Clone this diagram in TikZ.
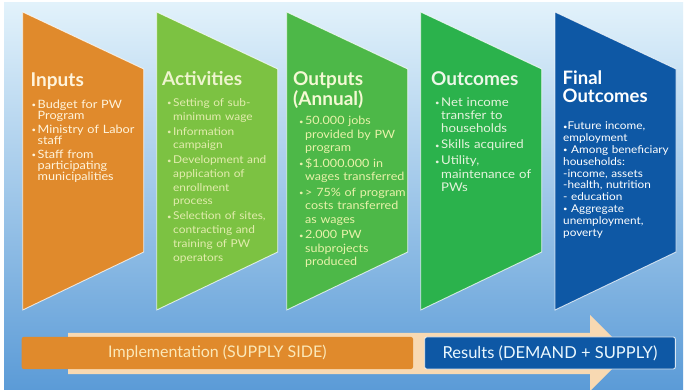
\documentclass[tikz,border=0pt]{standalone}
\usepackage{fontspec}
\setmainfont{Lato}
\newfontfamily\bodyf[FakeStretch=1.1]{Lato}
\definecolor{bgtop}{HTML}{E2F2FB}
\definecolor{bgmid}{HTML}{A6CFEE}
\definecolor{bgbot}{HTML}{5B9BD7}
\definecolor{cinp}{HTML}{E08A2C}
\definecolor{cact}{HTML}{7CC242}
\definecolor{cout}{HTML}{4DB848}
\definecolor{coum}{HTML}{2BB24C}
\definecolor{cfin}{HTML}{0E58A5}
\definecolor{peach}{HTML}{F8D9B2}
\definecolor{tinp}{HTML}{FFF4DC}
\definecolor{tact}{HTML}{E2ECAE}
\definecolor{tout}{HTML}{E8F2AA}
\definecolor{toum}{HTML}{E4F3DC}
\definecolor{timp}{HTML}{FBE8B8}
\newcommand\bu{\makebox[6pt][l]{\raisebox{0.6pt}{\fontsize{7}{7}\selectfont\textbullet}}}
\newcommand\ind{\makebox[6pt]{}}
\newcommand\sbu{{\fontsize{7}{7}\selectfont\raisebox{0.6pt}{\textbullet}}}
\newcommand\chevpath[1]{(#1,12) -- (#1+121,69) -- (#1+121,252) -- (#1,310) -- cycle}
\begin{document}
\begin{tikzpicture}[x=1pt,y=-1pt,
  chev/.style={draw=white, draw opacity=0.75, line width=0.9pt},
  head/.style={anchor=base west, inner sep=0pt, text width=125pt, align=left,
    font=\fontsize{19}{17.5}\selectfont\bfseries},
  body/.style={anchor=base west, inner sep=0pt, text width=125pt, align=left},
  bar/.style={inner sep=0pt, minimum height=32pt, rounded corners=2pt}]
\useasboundingbox (0,0) rectangle (686,390);
\fill[white] (0,0) rectangle (686,390);
\shade[top color=bgtop, middle color=bgmid, bottom color=bgbot] (4,3) rectangle (683,390);
% chevrons
\fill[cinp, chev] \chevpath{22.7};
\fill[cact, chev] \chevpath{156.7};
\fill[cout, chev] \chevpath{286.7};
\fill[coum, chev] \chevpath{420.7};
\fill[cfin, chev] \chevpath{555};
% headings
\node[head, text=tinp] (hinp) at (30.5,87) {Inputs};
\node[head, text=tact!60!white] (hact) at (162,86) {Activities};
\node[head, text=tout!50!white] (hout) at (293,86) {Outputs\\(Annual)};
\node[head, text=toum!70!white] (houm) at (431,86) {Outcomes};
\node[head, text=white, font=\fontsize{18.5}{17.8}\selectfont\bfseries] (hfin) at (562.5,85) {Final\\Outcomes};
% bodies
\node[body, text=tinp, font=\bodyf\fontsize{11.5}{11}\selectfont] (binp) at (31.5,108.5) {%
\bu Budget for PW\\\ind Program\\[3pt]
\bu Ministry of Labor\\\ind staff\\[3pt]
\bu Staff from\\\ind participating\\\ind municipalities};
\node[body, text=tact, font=\bodyf\fontsize{10.8}{13.7}\selectfont] (bact) at (167,106.5) {%
\bu Setting of sub-\\\ind minimum wage\\[1.3pt]
\bu Information\\\ind campaign\\[1.3pt]
\bu Development and\\\ind application of\\\ind enrollment\\\ind process\\[1.3pt]
\bu Selection of sites,\\\ind contracting and\\\ind training of PW\\\ind operators};
\node[body, text=tout, font=\bodyf\fontsize{11.4}{13.3}\selectfont] (bout) at (299,125) {%
\bu 50.000 jobs\\\ind provided by PW\\\ind program\\[2.5pt]
\bu \$1.000.000 in\\\ind wages transferred\\[2.5pt]
\bu > 75\% of program\\\ind costs transferred\\\ind as wages\\[2.5pt]
\bu 2.000 PW\\\ind subprojects\\\ind produced};
\node[body, text=toum, font=\bodyf\fontsize{12}{13.2}\selectfont] (boum) at (435,106.5) {%
\bu Net income\\\ind transfer to\\\ind households\\[2.8pt]
\bu Skills acquired\\[2.8pt]
\bu Utility,\\\ind maintenance of\\\ind PWs};
\node[body, text=white, font=\bodyf\fontsize{10.7}{11.8}\selectfont] (bfin) at (563,130) {%
\sbu Future income,\\ employment\\
\sbu{} Among beneficiary\\ households:\\
-income, assets\\ -health, nutrition\\ - education\\
\sbu{} Aggregate\\ unemployment,\\ poverty};
% bottom arrow and bars
\fill[peach] (68,333) -- (590,333) -- (590,315) -- (628,353) -- (590,391) -- (590,374) -- (68,374) -- cycle;
\node[bar, fill=cinp, text=timp, minimum width=391.3pt, font=\fontsize{16}{18}\selectfont] (impl) at (217.35,353) {Implementation (SUPPLY SIDE)};
\node[bar, fill=cfin, draw=white, draw opacity=0.8, line width=0.9pt, text=white!92!cyan, minimum width=250.6pt, font=\fontsize{16.5}{18}\selectfont] (res) at (550,353) {Results (DEMAND + SUPPLY)};
\end{tikzpicture}
\end{document}
